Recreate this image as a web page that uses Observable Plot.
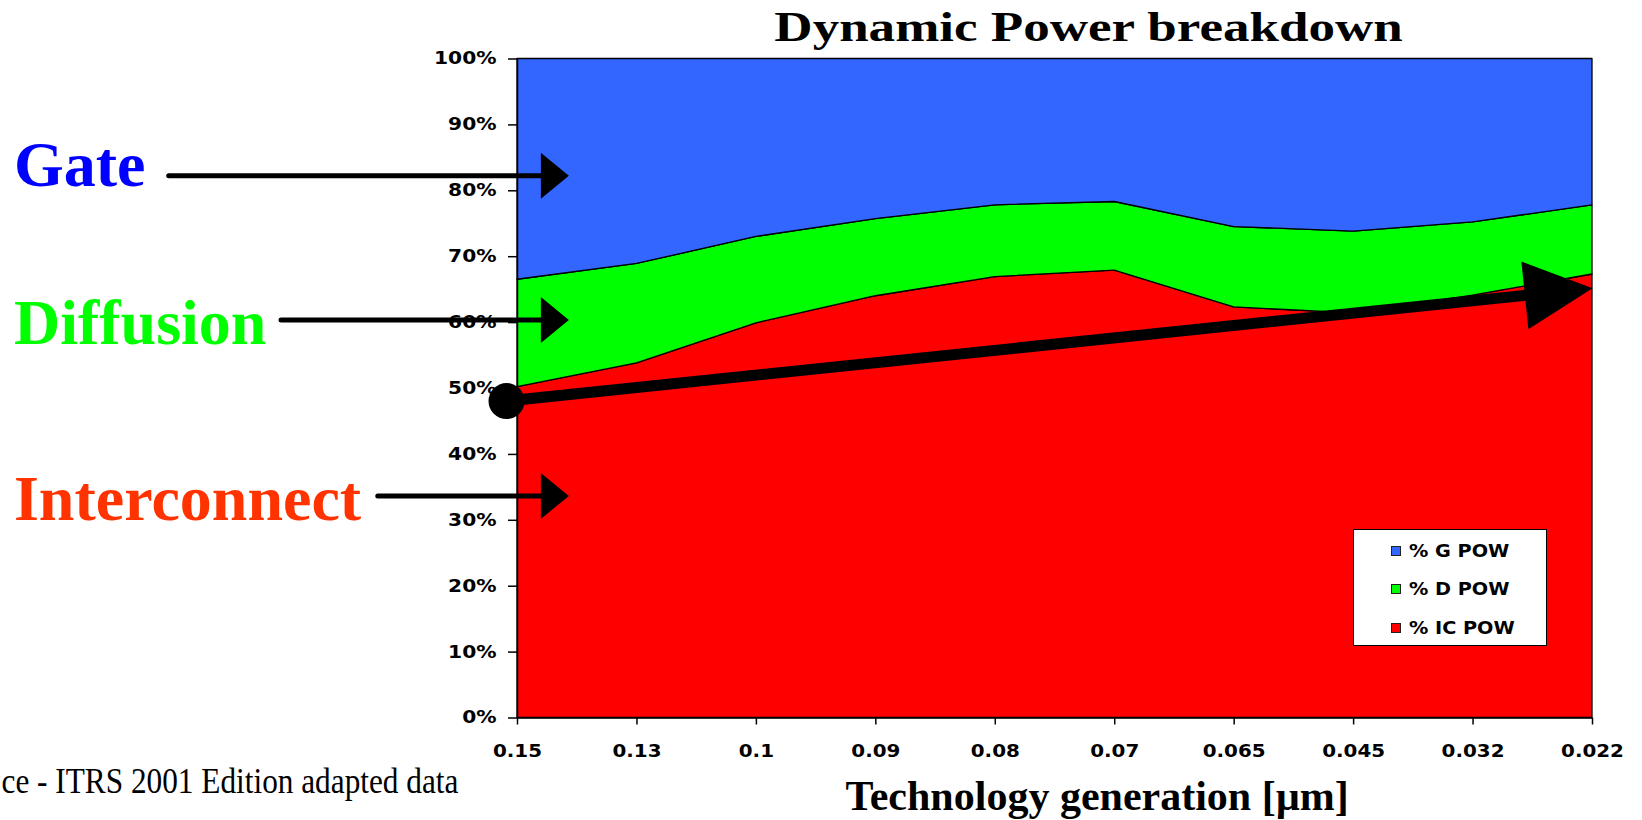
<!DOCTYPE html>
<html>
<head>
<meta charset="utf-8">
<script src="https://cdn.jsdelivr.net/npm/d3@7"></script>
<script src="https://cdn.jsdelivr.net/npm/@observablehq/plot@0.6"></script>
<style>
  html, body { margin: 0; padding: 0; background: #fff; overflow: hidden; }
  #wrap { position: relative; width: 1642px; height: 820px; overflow: hidden; }
  #legend { position: absolute; left: 1353px; top: 529px; width: 192px; height: 115px;
            border: 1.5px solid #000; background: #fff;
            font-family: "DejaVu Sans", sans-serif; font-weight: bold; font-size: 18px; color: #000; }
  #legend .row { position: absolute; left: 0; height: 20px; display: flex; align-items: center; }
  #legend .sw { position: absolute; left: 36.5px; top: 5px; width: 8px; height: 8px; border: 1.5px solid #222; }
  #legend .lab { position: absolute; left: 54.5px; top: 0; line-height: 20px; white-space: nowrap;
                 transform: scaleX(1.07); transform-origin: left center; }
</style>
</head>
<body>
<div id="wrap"></div>
<script>
// ---- data ----
const categories = ["0.15", "0.13", "0.1", "0.09", "0.08", "0.07", "0.065", "0.045", "0.032", "0.022"];
const icPow = [50.2, 53.8, 59.9, 64.0, 66.9, 67.9, 62.3, 61.4, 64.1, 67.3];
const dPow  = [16.3, 15.1, 13.1, 11.7, 10.9, 10.4, 12.2, 12.4, 11.1, 10.5];
const gPow  = [33.5, 31.1, 27.0, 24.3, 22.2, 21.7, 25.5, 26.2, 24.8, 22.2];
const seriesNames  = ["% IC POW", "% D POW", "% G POW"];   // bottom to top
const seriesColors = ["#ff0000", "#00ff00", "#3366ff"];
const yTicks = [0, 10, 20, 30, 40, 50, 60, 70, 80, 90, 100];

const titleText = "Dynamic Power breakdown";
const xTitleText = "Technology generation [µm]";
const captionText = "ce - ITRS 2001 Edition adapted data";

// callouts (annotation anchors in data units: x = category index, y = percent)
const calloutLabels = ["Gate", "Diffusion", "Interconnect"];
const calloutColors = ["#0000ff", "#00ff00", "#ff3300"];
const calloutLabelY = [80.8, 56.8, 30.1];
const calloutArrowY = [82.3, 60.4, 33.7];
const calloutArrowStartX = [-2.92, -1.98, -1.17];
const calloutTextX = -4.216;
const calloutTipX = 0.43;
const trendStart = {x: -0.092, y: 48.1};
const trendTip = {x: 9, y: 65.2};

// ---- layout ----
const W = 1642, H = 820, mL = 517, mR = 50, mT = 58.5, mB = 102.5;

const seriesValues = [icPow, dPow, gPow];
const table = seriesNames.flatMap((s, k) =>
  categories.map((c, i) => ({i, series: s, value: seriesValues[k][i]})));

const callouts = calloutLabels.map((label, k) => ({
  label, color: calloutColors[k], ty: calloutLabelY[k], ay: calloutArrowY[k], ax: calloutArrowStartX[k]
}));

function headSymbol(len, wid, angle) {
  const area = len * wid / 2;
  return {
    area,
    draw(ctx, size) {
      const s = Math.sqrt(size / area);
      const L = len * s, hw = wid * s / 2;
      const c = Math.cos(angle), sn = Math.sin(angle);
      const pt = (u, v) => [u * c - v * sn, u * sn + v * c];
      ctx.moveTo(...pt(0, 0));
      ctx.lineTo(...pt(-L, -hw));
      ctx.lineTo(...pt(-L, hw));
      ctx.closePath();
    }
  };
}

const pxPerX = (W - mL - mR) / (categories.length - 1);
const pxPerY = (H - mT - mB) / 100;
const trendAngle = Math.atan2(-(trendTip.y - trendStart.y) * pxPerY, (trendTip.x - trendStart.x) * pxPerX);
const trendShaftEnd = {
  x: trendStart.x + 0.95 * (trendTip.x - trendStart.x),
  y: trendStart.y + 0.95 * (trendTip.y - trendStart.y)
};
const smallHead = headSymbol(28, 46, 0);
const bigHead = headSymbol(68, 68, trendAngle);

const calloutMarks = calloutLabels.map((label, k) =>
  Plot.text([callouts[k]], {
    x: () => calloutTextX, y: "ty", text: "label", fill: calloutColors[k],
    textAnchor: "start", lineAnchor: "bottom",
    fontFamily: "Liberation Serif", fontWeight: "bold", fontSize: 64
  }));

const svg = Plot.plot({
  width: W, height: H,
  marginLeft: mL, marginRight: mR, marginTop: mT, marginBottom: mB,
  style: {fontFamily: "DejaVu Sans", fontSize: "17px", fontWeight: "bold", color: "#000", background: "#fff"},
  x: {type: "linear", domain: [0, categories.length - 1]},
  y: {domain: [0, 100]},
  color: {domain: seriesNames, range: seriesColors},
  marks: [
    Plot.areaY(table, {x: "i", y: "value", z: "series", fill: "series", stroke: "#000", strokeWidth: 1.3}),
    Plot.ruleX([0], {stroke: "#000", strokeWidth: 1.5}),
    Plot.ruleY([0], {stroke: "#000", strokeWidth: 1.5}),
    Plot.axisY({ticks: yTicks, tickFormat: d => d + "%", tickSize: 9, tickPadding: 12, label: null, strokeWidth: 1.5}),
    Plot.axisX({ticks: d3.range(categories.length), tickFormat: i => categories[i], tickSize: 7, tickPadding: 20, label: null, strokeWidth: 1.5}),
    // title, axis title, caption
    Plot.text([titleText], {frameAnchor: "top", dx: 33.5, dy: -17.8, lineAnchor: "bottom",
      fontFamily: "Liberation Serif", fontWeight: "bold", fontSize: 43, ariaLabel: () => "chart title"}),
    Plot.text([xTitleText], {frameAnchor: "bottom", dx: 42.2, dy: 91.8, lineAnchor: "bottom",
      fontFamily: "Liberation Serif", fontWeight: "bold", fontSize: 42, ariaLabel: () => "x title"}),
    Plot.text([captionText], {frameAnchor: "bottom-left", dx: -516, dy: 75.2, textAnchor: "start", lineAnchor: "bottom",
      fontFamily: "Liberation Serif", fontWeight: "normal", fontSize: 35, ariaLabel: () => "caption"}),
    // callouts
    ...calloutMarks,
    Plot.link(callouts, {x1: "ax", y1: "ay", x2: () => calloutTipX - 0.13, y2: "ay",
      stroke: "#000", strokeWidth: 5, strokeLinecap: "round"}),
    Plot.dot(callouts, {x: () => calloutTipX, y: "ay", symbol: smallHead,
      r: Math.sqrt(smallHead.area / Math.PI), fill: "#000", stroke: "none"}),
    // trend arrow
    Plot.link([{x1: trendStart.x, y1: trendStart.y, x2: trendShaftEnd.x, y2: trendShaftEnd.y}],
      {x1: "x1", y1: "y1", x2: "x2", y2: "y2", stroke: "#000", strokeWidth: 11}),
    Plot.dot([trendTip], {x: "x", y: "y", symbol: bigHead,
      r: Math.sqrt(bigHead.area / Math.PI), fill: "#000", stroke: "none"}),
    Plot.dot([trendStart], {x: "x", y: "y", r: 18, fill: "#000", stroke: "none"})
  ]
});

// horizontal stretch of text, to match the stretched chart picture
function stretch(selector, s) {
  svg.querySelectorAll(selector).forEach(t => {
    const x = +(t.getAttribute("x") || 0);
    const tr = t.getAttribute("transform") || "";
    t.setAttribute("transform", `${tr} translate(${x},0) scale(${s},1) translate(${-x},0)`);
  });
}
stretch('g[aria-label="y-axis tick label"] text', 1.19);
stretch('g[aria-label="x-axis tick label"] text', 1.17);
stretch('text[aria-label="chart title"]', 1.233);
stretch('text[aria-label="caption"]', 0.894);

const wrap = document.getElementById("wrap");
wrap.appendChild(svg);

// legend (inside plot area, top to bottom: G, D, IC)
const legend = document.createElement("div");
legend.id = "legend";
const rowCenters = [20.5, 58.5, 97.5];
seriesNames.slice().reverse().forEach((name, k) => {
  const color = seriesColors[seriesNames.length - 1 - k];
  const row = document.createElement("div");
  row.className = "row";
  row.style.top = (rowCenters[k] - 10) + "px";
  row.innerHTML = `<span class="sw" style="background:${color}"></span><span class="lab">${name}</span>`;
  legend.appendChild(row);
});
wrap.appendChild(legend);
</script>
</body>
</html>
